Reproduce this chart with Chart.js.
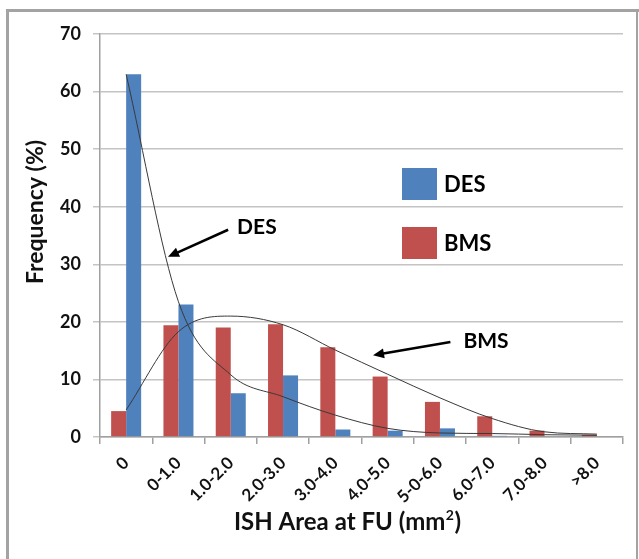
<!DOCTYPE html>
<html>
<head>
<meta charset="utf-8">
<script src="https://cdn.jsdelivr.net/npm/chart.js@4/dist/chart.umd.min.js"></script>
<style>
  html, body { margin: 0; padding: 0; background: #fff; }
  #wrap { width: 639px; height: 559px; position: relative; }
</style>
</head>
<body>
<div id="wrap"><canvas id="mycanvas" width="639" height="559"></canvas></div>
<script>
// categories on the x axis (label "5-0-6.0" as printed in the original)
var categories = ['0', '0-1.0', '1.0-2.0', '2.0-3.0', '3.0-4.0', '4.0-5.0', '5-0-6.0', '6.0-7.0', '7.0-8.0', '>8.0'];

// bar values, frequency in %
var bmsValues = [4.5, 19.4, 19.0, 19.6, 15.6, 10.5, 6.1, 3.6, 1.1, 0.4];
var desValues = [63.0, 23.0, 7.6, 10.7, 1.3, 1.1, 1.5, 0.2, 0, 0];

// trend curves read at each category centre
var desTrend = [63.0, 23.5, 10.8, 7.0, 3.8, 1.5, 0.7, 0.6, 0.4, 0.3];
var bmsTrend = [4.7, 18.3, 21.0, 19.5, 15.1, 10.9, 6.8, 3.2, 0.9, 0.5];

var yTicks = [0, 10, 20, 30, 40, 50, 60, 70];

var xTitle = ['ISH Area at FU (mm', '2', ')'];
var yTitle = 'Frequency (%)';

// callouts: [label, textX (category index), textY (value), tailX, tailY, headX, headY]
var callouts = [
    ['DES', 2.5, 36.4, 1.95, 36.0, 0.8, 31.3],
    ['BMS', 6.88, 16.6, 6.2, 16.5, 4.72, 14.2]
];

var blue = '#4F81BD';
var red = '#C0504D';
var fontName = 'Lato, "Open Sans", sans-serif';

var framePlugin = {
    id: 'frame',
    beforeDraw: function(chart) {
        var c = chart.ctx;
        c.save();
        c.fillStyle = '#fff';
        c.fillRect(0, 0, chart.width, chart.height);
        c.strokeStyle = '#a3a3a3';
        c.lineWidth = 3;
        c.beginPath();
        c.moveTo(7.5, chart.height + 5);
        c.lineTo(7.5, 10.5);
        c.lineTo(chart.width + 5, 10.5);
        c.stroke();
        c.lineWidth = 2;
        c.beginPath();
        c.moveTo(637, 10);
        c.lineTo(637, chart.height + 5);
        c.stroke();
        c.restore();
    }
};

var notesPlugin = {
    id: 'notes',
    afterDraw: function(chart) {
        var c = chart.ctx;
        var xs = chart.scales.x, ys = chart.scales.y;
        var area = chart.chartArea;
        c.save();
        // callouts with arrows
        callouts.forEach(function(n) {
            var tx = xs.getPixelForValue(n[1]), ty = ys.getPixelForValue(n[2]);
            var x1 = xs.getPixelForValue(n[3]), y1 = ys.getPixelForValue(n[4]);
            var x2 = xs.getPixelForValue(n[5]), y2 = ys.getPixelForValue(n[6]);
            c.fillStyle = '#000';
            c.font = 'bold 21px ' + fontName;
            c.textAlign = 'center';
            c.textBaseline = 'middle';
            c.fillText(n[0], tx, ty);
            var ang = Math.atan2(y2 - y1, x2 - x1);
            var hl = 11, hw = 5;
            c.strokeStyle = '#000';
            c.lineWidth = 2.5;
            c.beginPath();
            c.moveTo(x1, y1);
            c.lineTo(x2 - Math.cos(ang) * (hl - 2), y2 - Math.sin(ang) * (hl - 2));
            c.stroke();
            c.beginPath();
            c.moveTo(x2, y2);
            c.lineTo(x2 - Math.cos(ang) * hl - Math.sin(ang) * hw, y2 - Math.sin(ang) * hl + Math.cos(ang) * hw);
            c.lineTo(x2 - Math.cos(ang) * hl + Math.sin(ang) * hw, y2 - Math.sin(ang) * hl - Math.cos(ang) * hw);
            c.closePath();
            c.fill();
        });
        // legend box
        var items = [[chart.data.datasets[1].label, blue], [chart.data.datasets[0].label, red]];
        var lx = area.left + 302, ly = area.top + 134;
        items.forEach(function(it, i) {
            var y = ly + i * 59;
            c.fillStyle = it[1];
            c.fillRect(lx, y, 35, 32);
            c.fillStyle = '#000';
            c.font = 'bold 22px ' + fontName;
            c.textAlign = 'left';
            c.textBaseline = 'middle';
            c.fillText(it[0], lx + 42, y + 17);
        });
        // axis titles
        c.fillStyle = '#111';
        c.textBaseline = 'middle';
        c.font = 'bold 23px ' + fontName;
        c.save();
        c.translate(36, area.top + 178);
        c.rotate(-Math.PI / 2);
        c.textAlign = 'center';
        c.fillText(yTitle, 0, 0);
        c.restore();
        var big = 'bold 24px ' + fontName, small = 'bold 14px ' + fontName;
        c.font = big;
        var w0 = c.measureText(xTitle[0]).width, w2 = c.measureText(xTitle[2]).width;
        c.font = small;
        var w1 = c.measureText(xTitle[1]).width;
        var sx = 347 - (w0 + w1 + w2) / 2, sy = 522;
        c.textAlign = 'left';
        c.font = big;
        c.fillText(xTitle[0], sx, sy);
        c.font = small;
        c.fillText(xTitle[1], sx + w0 + 0.5, sy - 7);
        c.font = big;
        c.fillText(xTitle[2], sx + w0 + w1 + 1, sy);
        c.restore();
    }
};

var ctx = document.getElementById('mycanvas');

var chartdata = {
    labels: categories,
    datasets: [
        {
            type: 'bar',
            label: 'BMS',
            data: bmsValues,
            backgroundColor: red,
            order: 2
        },
        {
            type: 'bar',
            label: 'DES',
            data: desValues,
            backgroundColor: blue,
            order: 2
        },
        {
            type: 'line',
            label: 'DES trend',
            data: desTrend,
            borderColor: '#3a3a3a',
            borderWidth: 1,
            pointRadius: 0,
            fill: false,
            cubicInterpolationMode: 'monotone',
            order: 0
        },
        {
            type: 'line',
            label: 'BMS trend',
            data: bmsTrend,
            borderColor: '#3a3a3a',
            borderWidth: 1,
            pointRadius: 0,
            fill: false,
            cubicInterpolationMode: 'monotone',
            order: 0
        }
    ]
};

var BarGraph = new Chart(ctx, {
    type: 'bar',
    data: chartdata,
    plugins: [framePlugin, notesPlugin],
    options: {
        responsive: false,
        animation: false,
        devicePixelRatio: 1,
        layout: { padding: { left: 0, top: 34, right: 16, bottom: 0 } },
        datasets: {
            bar: { barPercentage: 1, categoryPercentage: 0.574 }
        },
        plugins: {
            legend: { display: false },
            tooltip: { enabled: false }
        },
        scales: {
            x: {
                offset: true,
                grid: {
                    offset: true,
                    drawOnChartArea: false,
                    tickLength: 7,
                    color: '#a0a0a0',
                    lineWidth: 1.5
                },
                border: { color: '#a0a0a0', width: 1.5 },
                ticks: {
                    color: '#111',
                    font: { family: fontName, size: 17, weight: 'bold' },
                    minRotation: 45,
                    maxRotation: 45,
                    autoSkip: false,
                    padding: 9
                },
                afterFit: function(scale) { scale.height = 122; }
            },
            y: {
                min: 0,
                max: 70,
                afterBuildTicks: function(scale) {
                    scale.ticks = yTicks.map(function(v) { return { value: v }; });
                },
                grid: {
                    color: '#c4c4c4',
                    lineWidth: 1.5,
                    tickLength: 7
                },
                border: { color: '#a0a0a0', width: 1.5 },
                ticks: {
                    color: '#111',
                    font: { family: fontName, size: 18, weight: 'bold' },
                    padding: 12
                },
                afterFit: function(scale) { scale.width = 100; }
            }
        }
    }
});
</script>
</body>
</html>
